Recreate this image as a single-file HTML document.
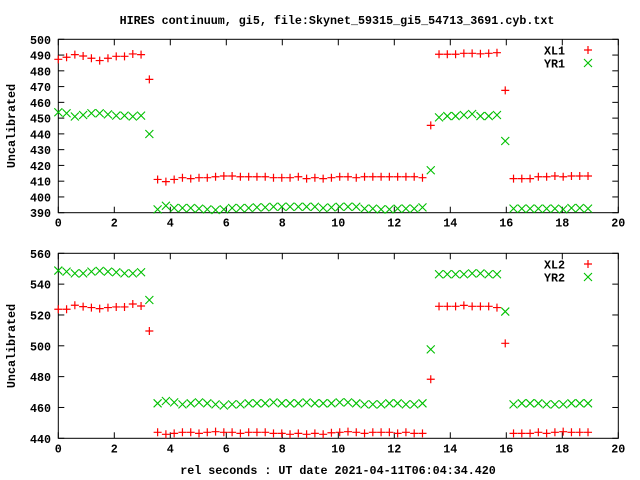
<!DOCTYPE html>
<html><head><meta charset="utf-8"><style>
body{margin:0;background:#fff}
svg{display:block}
text{font-family:"Liberation Mono",monospace;font-size:11.7px;font-weight:bold;fill:#000}
</style></head><body>
<svg id="c" width="640" height="480" xmlns="http://www.w3.org/2000/svg">
<text x="337" y="24" text-anchor="middle">HIRES continuum, gi5, file:Skynet_59315_gi5_54713_3691.cyb.txt</text>
<text x="338" y="474" text-anchor="middle">rel seconds : UT date 2021-04-11T06:04:34.420</text>
<text transform="translate(15,126) rotate(-90)" text-anchor="middle">Uncalibrated</text>
<text transform="translate(15,346) rotate(-90)" text-anchor="middle">Uncalibrated</text>
</svg>
<script>
const dt = 0.2956;
const xl1 = [487.3,488.6,490.3,489.4,488,486.5,488,489.2,489.2,490.7,490.3,474.6,
411.1,409.7,411.1,412.2,411.6,412.2,412.2,412.8,413.3,413.3,412.8,412.8,412.8,412.8,412.2,412.2,412.2,412.8,411.6,412.2,411.6,412.2,412.8,412.8,412.2,412.8,412.8,412.8,412.8,412.8,412.8,412.8,412.2,
445.4,490.5,490.5,490.5,491.1,491.1,490.8,491.1,491.5,467.6,
411.6,411.6,411.6,412.8,412.8,413.3,412.8,413.3,413.3,413.3];
const yr1 = [453.7,453.1,451,452,453.1,453.1,452.4,451.6,451.6,451,451.6,439.9,
392.1,394.4,393,393,393,392.6,392.1,391.7,392.1,393,393,393,393.4,393.4,393.8,393.8,393.8,393.8,393.8,393.8,393,393.4,393.8,393.8,393.8,392.6,392.6,392.1,392.1,392.6,392.6,392.6,393.4,
416.9,450.5,451.3,451.3,452,452.6,451.3,451.3,452,435.5,
392.6,392.6,392.6,392.6,392.6,392.6,392.1,393,393,392.6];
const xl2 = [523.7,523.7,526.3,525.4,524.8,524.1,524.8,525.2,525.2,527.1,525.8,509.6,
443.9,442.6,443.2,443.9,443.9,443.2,443.9,444.3,443.9,443.9,443.2,443.9,443.9,443.9,443.2,443.2,442.6,443.2,442.6,443.2,442.6,443.6,443.9,444.3,443.9,443.2,443.9,443.9,443.9,443.2,443.9,443.2,443.2,
478.3,525.6,525.6,525.6,526.2,525.6,525.6,525.6,524.8,501.6,
443.2,443.2,443.2,443.9,443.2,443.9,444.3,443.9,443.9,443.9];
const yr2 = [548.8,548.1,547,547,548.1,548.6,548.1,547.7,547,547,547.7,529.7,
462.7,464.2,463.3,462,462.7,463.3,462.7,462,461.3,462,462,462.7,462.7,462.7,463.3,462.7,462.7,462.7,463.3,462.7,462.7,462.7,463.3,463.3,462.7,462,462,462,462.7,462.7,462,462,462.7,
497.7,546.4,546.4,546.4,546.4,547,547,546.4,546.4,522.2,
462,462.7,462.7,462.7,462,462,462,462.7,462.7,462.7];
const xTicks = [0,2,4,6,8,10,12,14,16,18,20];
const yTicks1 = [390,400,410,420,430,440,450,460,470,480,490,500];
const yTicks2 = [440,460,480,500,520,540,560];

const NS="http://www.w3.org/2000/svg";
const svg=document.getElementById('c');
function mk(tag,attrs){const e=document.createElementNS(NS,tag);for(const k in attrs)e.setAttribute(k,attrs[k]);svg.appendChild(e);return e;}
const L=58.3,R=618.3;
function panel(top,bot,ymin,ymax,yTicks,s1,s2,n1,n2,ly,pfx){
  const sx=v=>L+(v-0)/(20-0)*(R-L);
  const sy=v=>bot-(v-ymin)/(ymax-ymin)*(bot-top);
  const fr=mk('rect',{x:L,y:top,width:R-L,height:bot-top,fill:'none',stroke:'#000','stroke-width':1});
  
  
  xTicks.forEach(t=>{
    const x=sx(t);
    const a=mk('line',{x1:x,y1:bot,x2:x,y2:bot-6,stroke:'#000'});
    
    
    const b=mk('line',{x1:x,y1:top,x2:x,y2:top+6,stroke:'#000'});
    
    
    const tx=mk('text',{x:x,y:bot+14,'text-anchor':'middle'});tx.textContent=t;
    
    
  });
  yTicks.forEach(t=>{
    const y=sy(t);
    const a=mk('line',{x1:L,y1:y,x2:L+6,y2:y,stroke:'#000'});
    
    
    const b=mk('line',{x1:R,y1:y,x2:R-6,y2:y,stroke:'#000'});
    
    
    const tx=mk('text',{x:51,y:y+4.5,'text-anchor':'end'});tx.textContent=t;
    
    
  });
  function plus(x,y){return mk('path',{d:`M${x-4},${y}H${x+4}M${x},${y-4}V${y+4}`,stroke:'#f00','stroke-width':1.2,fill:'none'});}
  function cross(x,y){return mk('path',{d:`M${x-4},${y-4}L${x+4},${y+4}M${x-4},${y+4}L${x+4},${y-4}`,stroke:'#00c000','stroke-width':1.1,fill:'none'});}
  s2.forEach((v,i)=>{const p=cross(sx(i*dt),sy(v));
    
    });
  s1.forEach((v,i)=>{const p=plus(sx(i*dt),sy(v));
    
    });
  const t1=mk('text',{x:565,y:ly+4.5,'text-anchor':'end'});t1.textContent=n1;
  
  
  const m1=plus(588,ly);
  
  
  const t2=mk('text',{x:565,y:ly+13+4.5,'text-anchor':'end'});t2.textContent=n2;
  
  
  const m2=cross(588,ly+13);
  
  
}
panel(39.3,212.7,390,500,yTicks1,xl1,yr1,'XL1','YR1',50,'top');
panel(253.3,438.3,440,560,yTicks2,xl2,yr2,'XL2','YR2',264,'bottom');
</script>
</body></html>
